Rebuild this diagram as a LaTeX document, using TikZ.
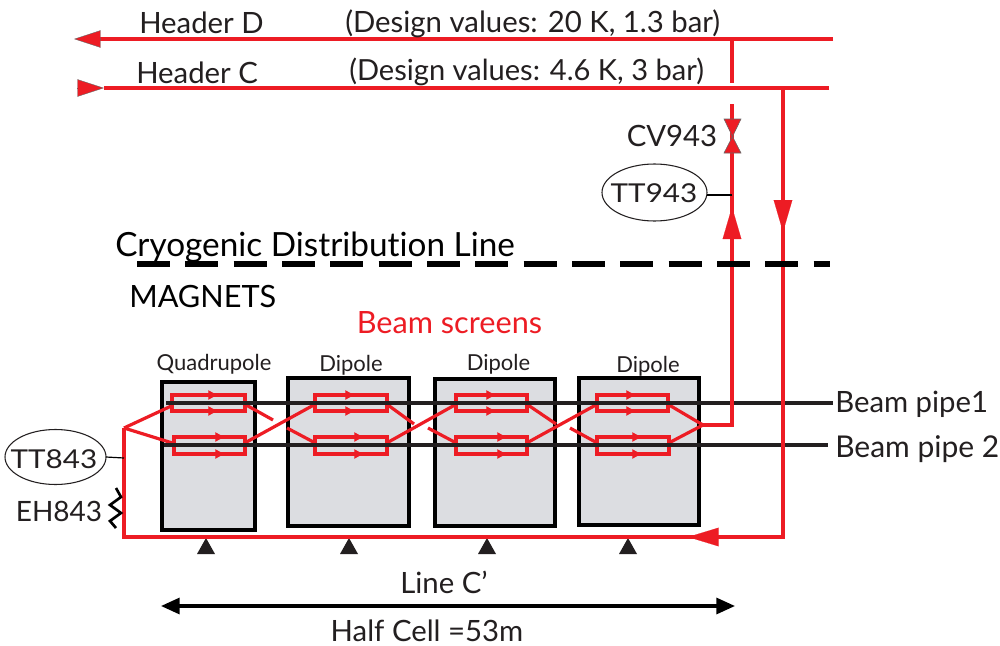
\documentclass[tikz,border=0pt]{standalone}
\usepackage{fontspec}
\setmainfont{Lato}
\usetikzlibrary{arrows.meta,shapes.geometric}
\definecolor{cred}{HTML}{ED1C24}
\definecolor{cblack}{HTML}{231F20}
\definecolor{cgray}{HTML}{DCDDE1}
\tikzset{
 x=0.75pt,y=-0.75pt,
 redline/.style={draw=cred,line width=2.5pt},
 diag/.style={draw=cred,line width=2.4pt},
 pipe/.style={draw=cblack,line width=3pt},
 magnet/.style={draw=black,fill=cgray,line width=3pt,inner sep=0pt,outer sep=0pt,minimum width=#1*0.75pt},
 screenbox/.style={draw=cred,line width=2.7pt,inner sep=0pt,outer sep=0pt,minimum width=#1*0.75pt,minimum height=16.5*0.75pt},
 bighead/.style={draw=cred,-{Triangle[length=24pt,width=14pt,fill=cred]},line width=0.1pt},
 sidehead/.style={draw=cred,-{Triangle[length=23pt,width=14pt,fill=cred]},line width=0.1pt},
 headerhead/.style={-{Triangle[length=20pt,width=13pt,fill=cred]},draw=black!60,line width=0.3pt},
 tiny/.style={draw=cred,-{Triangle[length=6.5pt,width=7pt,fill=cred]},line width=0.1pt},
 support/.style={fill=cblack,draw=none},
 valvepart/.style={fill=cred,draw=black!60,line width=0.4pt},
 lab/.style={text=cblack,inner sep=0pt,font=\fontsize{22}{24}\selectfont},
 mlab/.style={text=cblack,inner sep=0pt,anchor=base,font=\fontsize{16.5}{18}\selectfont},
 sensor/.style={draw=cblack,line width=0.8pt,ellipse,inner sep=0pt,outer sep=0pt},
 sensorlab/.style={text=cblack,inner sep=0pt,anchor=base,font=\fontsize{19.5}{21}\selectfont\addfontfeature{FakeStretch=1.14}},
 thin wire/.style={draw=black,line width=0.9pt},
}
\begin{document}
\begin{tikzpicture}
\useasboundingbox (0,0) rectangle (1000,646);
\fill[white] (0,0) rectangle (1000,646);
% magnets
\node[magnet=93,minimum height=148*0.75pt] (mq) at (208.5,456) {};
\node[magnet=121,minimum height=148*0.75pt] (m1) at (348.5,452) {};
\node[magnet=120,minimum height=147*0.75pt] (m2) at (494.5,452) {};
\node[magnet=120,minimum height=147*0.75pt] (m3) at (638.5,451) {};
% supports
\foreach \p in {206,349,487,628}{
  \fill[support] (\p-9,554) -- (\p,538) -- (\p+9,554) -- cycle;
}
% named points
\coordinate (dleft) at (100,39);
\coordinate (dtip) at (74,39);
\coordinate (dright) at (833,39);
\coordinate (cbase) at (77,88);
\coordinate (ctip) at (104,88);
\coordinate (cright) at (829,88);
\coordinate (dj) at (732,39);
\coordinate (dj2) at (732,83);
\coordinate (vtop) at (732,104);
\coordinate (outc) at (703,425);
\coordinate (outk) at (732,425);
\coordinate (cj) at (783,88);
\coordinate (ck) at (783,537);
\coordinate (bl) at (124,537);
\coordinate (in) at (124,428);
\coordinate (q1) at (273,420);
\coordinate (d1l) at (287,428);
\coordinate (d1r) at (414,424);
\coordinate (d2l) at (428,428);
\coordinate (d2r) at (556,424);
\coordinate (d3l) at (570,428);
% screens
\node[screenbox=73] (qa) at (208.5,403) {};
\node[screenbox=71] (qb) at (209.5,445.5) {};
\node[screenbox=72] (aa) at (351,403) {};
\node[screenbox=72] (ab) at (351,445.5) {};
\node[screenbox=71] (ba) at (491.5,403) {};
\node[screenbox=71] (bb) at (491.5,445.5) {};
\node[screenbox=71] (ca) at (632.5,403) {};
\node[screenbox=72] (cb) at (633,445.5) {};
% screen links
\draw[diag] (in) -- ([yshift=-2pt]qa.west);
\draw[diag] (in) -- ([yshift=1.5pt]qb.west);
\draw[diag] ([yshift=-1pt]qa.east) -- (q1);
\draw[diag] ([yshift=2pt]qb.east) -- ([yshift=-1pt]aa.west);
\draw[diag] (d1l) -- ([yshift=2pt]ab.west);
\draw[diag] ([yshift=-1pt]aa.east) -- (d1r);
\draw[diag] ([yshift=2pt]ab.east) -- ([yshift=-1pt]ba.west);
\draw[diag] (d2l) -- ([yshift=2pt]bb.west);
\draw[diag] ([yshift=-1pt]ba.east) -- (d2r);
\draw[diag] ([yshift=2pt]bb.east) -- ([yshift=-1pt]ca.west);
\draw[diag] (d3l) -- ([yshift=2pt]cb.west);
\draw[diag] ([yshift=-1pt]ca.east) -- (outc);
\draw[diag] ([yshift=2pt]cb.east) -- (outc);
% small arrows
\foreach \x/\y in {208/395,208/411,215/437,215/454,345/395,345/411,354/437,354/454,486/395,486/411,497/437,497/454,626/395,626/411,632/437,632/454}{
  \draw[tiny] (\x,\y) -- (\x+9,\y);
}
% pipes
\coordinate (p1l) at (166,403);
\coordinate (p2l) at (164,445);
\coordinate (p1r) at (833,403);
\coordinate (p2r) at (828,445);
\draw[pipe] (p1l) -- (p1r);
\draw[pipe] (p2l) -- (p2r);
% main red lines
\draw[redline] (dright) -- (dleft);
\draw[redline] (cright) -- (ctip);
\draw[redline] (dj) -- (dj2);
\draw[redline] (vtop) -- (outk) -- (outc);
\draw[redline] (cj) -- (ck) -- (bl) -- (in);
% arrowheads
\draw[headerhead] (dleft) -- (dtip);
\draw[headerhead] (cbase) -- (ctip);
\coordinate (upa) at (732,240);
\coordinate (upb) at (732,207);
\draw[bighead] (upa) -- (upb);
\coordinate (dna) at (783,201);
\coordinate (dnb) at (783,232);
\draw[bighead] (dna) -- (dnb);
\coordinate (lfa) at (719,537);
\coordinate (lfb) at (688,537);
\draw[sidehead] (lfa) -- (lfb);
% valve
\path[valvepart] (724,119) -- (741,119) -- (732.5,136.5) -- cycle;
\path[valvepart] (724,153) -- (741,153) -- (732.5,136.5) -- cycle;
% divider
\coordinate (dash1) at (137,264);
\coordinate (dash2) at (830,264);
\draw[black,line width=5pt,dash pattern=on 24.75pt off 11.5pt] (dash1) -- (dash2);
% double arrow
\coordinate (hl) at (161,606);
\coordinate (hr) at (735,606);
\draw[black,line width=2.4pt,{Triangle[length=14pt,width=12pt]}-{Triangle[length=14pt,width=12pt]}] (hl) -- (hr);
% heater
\coordinate (h1) at (116,488);
\coordinate (h2) at (121,497);
\coordinate (h3) at (110,505);
\coordinate (h4) at (121,513);
\coordinate (h5) at (110,521);
\coordinate (h6) at (116,528);
\draw[black,line width=2pt] (h1) -- (h2) -- (h3) -- (h4) -- (h5) -- (h6);
% sensors
\node[sensor,minimum width=101*0.75pt,minimum height=55*0.75pt] (tt8) at (55.5,457) {};
\node[sensorlab] (tt8l) at (54,468) {TT843};
\coordinate (tt8j) at (124,458);
\draw[thin wire] (tt8.east) -- (tt8j);
\node[sensor,minimum width=105*0.75pt,minimum height=57*0.75pt] (tt9) at (654.5,192.5) {};
\node[sensorlab] (tt9l) at (654,202) {TT943};
\coordinate (tt9j) at (732,195);
\draw[thin wire] (tt9.east |- tt9j) -- (tt9j);
% labels
\node[lab,anchor=base west] (hd) at (139,33) {Header D};
\node[lab,anchor=base west] (hc) at (136,83) {Header C};
\node[lab,anchor=base west] (dvd) at (345,32.5) {(Design values: 20 K, 1.3 bar)};
\node[lab,anchor=base west,font=\fontsize{21.8}{24}\selectfont] (dvc) at (349,80.5) {(Design values: 4.6 K, 3 bar)};
\node[lab,anchor=base] (cv) at (672,146) {CV943};
\node[lab,anchor=base west,text=black,font=\fontsize{25}{27}\selectfont] (cdl) at (115,256) {Cryogenic Distribut\kern0pt ion Line};
\node[lab,anchor=base west,text=black,font=\fontsize{23}{25}\selectfont] (mg) at (129,307) {MAGNETS};
\node[lab,anchor=base,text=cred,font=\fontsize{23}{25}\selectfont] (bs) at (449.5,333) {Beam screens};
\node[mlab] (lq) at (214,370) {Quadrupole};
\node[mlab] (l1) at (351,371) {Dipole};
\node[mlab] (l2) at (498.5,370) {Dipole};
\node[mlab] (l3) at (648,372) {Dipole};
\node[lab,anchor=base,font=\fontsize{21}{23}\selectfont] (eh) at (59,521) {EH843};
\node[lab,anchor=base west] (bp1) at (835,412) {Beam pipe1};
\node[lab,anchor=base west,font=\fontsize{22.5}{24}\selectfont] (bp2) at (835,457) {Beam pipe 2};
\node[lab,anchor=base] (lc) at (444,593) {Line C'};
\node[lab,anchor=base] (hcl) at (427,641) {Half Cell =53m};
\end{tikzpicture}
\end{document}
